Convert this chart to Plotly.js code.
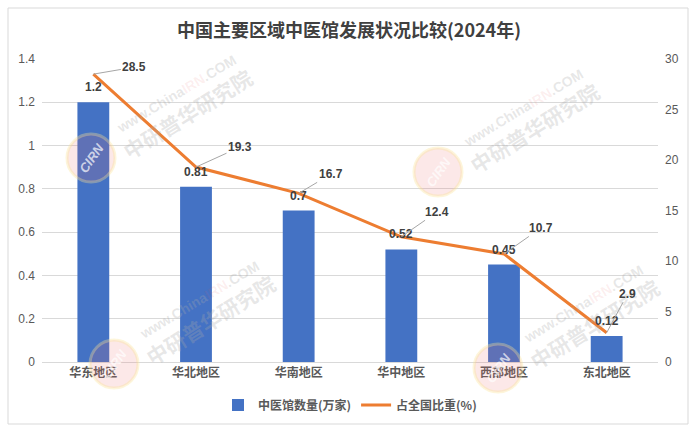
<!DOCTYPE html>
<html><head><meta charset="utf-8">
<script src="https://cdn.plot.ly/plotly-3.0.1.min.js"></script>
<style>html,body{margin:0;padding:0;background:#fff;}#chart{width:698px;height:436px;}</style>
</head><body><div id="chart"></div>
<script>
const categories = ['华东地区','华北地区','华南地区','华中地区','西部地区','东北地区'];
const clinicCount = [1.2, 0.81, 0.7, 0.52, 0.45, 0.12];
const nationalShare = [28.5, 19.3, 16.7, 12.4, 10.7, 2.9];
const leftTicks = [0, 0.2, 0.4, 0.6, 0.8, 1, 1.2, 1.4];
const rightTicks = [0, 5, 10, 15, 20, 25, 30];
const shareLabelOffsets = [[41,-7],[44,-20],[32,-19],[36,-25],[37,-26],[21,-39]];

const FONT = 'Liberation Sans, "Noto Sans CJK SC", sans-serif';
const CJK = '"Noto Sans CJK SC", "Liberation Sans", sans-serif';

// plot area in pixels (for placing the decorative frame / watermarks)
const PL = 42, PR = 658, PT = 59, PB = 362;
const px = v => (v - PL) / (PR - PL);
const py = v => (PB - v) / (PB - PT);

const bar = {
  type: 'bar', name: '中医馆数量(万家)', x: categories, y: clinicCount,
  marker: {color: '#4472C4'}, hoverinfo: 'skip'
};
const line = {
  type: 'scatter', mode: 'lines', name: '占全国比重(%)', x: categories, y: nationalShare,
  yaxis: 'y2', line: {color: '#ED7D31', width: 3}, hoverinfo: 'skip'
};

const annotations = [];
const shapes = [
  {type:'rect', xref:'paper', yref:'paper', x0:px(8), x1:px(688), y0:py(424), y1:py(8),
   line:{color:'#D9D9D9', width:1}, fillcolor:'rgba(0,0,0,0)', layer:'below'}
];

// faint watermarks (logo circle + rotated texts)
const logos = [[91,158],[438,172],[114,364],[498,368]];
logos.forEach(p => {
  const r = 24;
  shapes.push({type:'circle', xref:'paper', yref:'paper', x0:px(p[0]-r), x1:px(p[0]+r), y0:py(p[1]+r), y1:py(p[1]-r),
    line:{color:'rgba(250,225,150,0.35)', width:3}, fillcolor:'rgba(235,110,110,0.16)', layer:'above'});
  annotations.push({xref:'paper', yref:'paper', x:px(p[0]), y:py(p[1]), xanchor:'center', yanchor:'middle',
    text:'<i>CIRN</i>', showarrow:false, textangle:-55,
    font:{family:FONT, size:13, color:'rgba(255,255,255,0.7)', weight:'bold'}});
  annotations.push({xref:'paper', yref:'paper', x:px(p[0]+85), y:py(p[1]-64), xanchor:'center', yanchor:'middle',
    text:'www.China<span style="color:rgba(230,90,90,0.35)">IRN</span>.COM', showarrow:false, textangle:-31,
    font:{family:FONT, size:14, color:'rgba(170,170,170,0.28)', weight:'bold'}});
  annotations.push({xref:'paper', yref:'paper', x:px(p[0]+96), y:py(p[1]-44), xanchor:'center', yanchor:'middle',
    text:'中研普华研究院', showarrow:false, textangle:-32,
    font:{family:CJK, size:21, color:'rgba(170,170,170,0.28)', weight:'bold'}});
});

categories.forEach((c, i) => {
  annotations.push({x: c, y: clinicCount[i], xref: 'x', yref: 'y', text: String(clinicCount[i]),
    showarrow: false, yanchor: 'middle', yshift: 15,
    font: {family: FONT, size: 12, color: '#404040', weight: 'bold'}});
  annotations.push({x: c, y: nationalShare[i], xref: 'x', yref: 'y2', text: String(nationalShare[i]),
    showarrow: true, arrowhead: 0, arrowwidth: 1, arrowcolor: '#A6A6A6',
    ax: shareLabelOffsets[i][0], ay: shareLabelOffsets[i][1], standoff: 0, startstandoff: 0,
    font: {family: FONT, size: 12, color: '#404040', weight: 'bold'}});
});

const layout = {
  width: 698, height: 436,
  margin: {l: PL, r: 698 - PR, t: PT, b: 436 - PB},
  paper_bgcolor: '#fff', plot_bgcolor: '#fff',
  title: {text: '中国主要区域中医馆发展状况比较(2024年)', x: 0.5, xanchor: 'center', y: 0.93, yanchor: 'middle',
    font: {family: CJK, size: 18, color: '#404040', weight: 'bold'}},
  bargap: 0.69,
  xaxis: {tickfont: {family: CJK, size: 12, color: '#595959', weight: 'bold'}, showgrid: false,
    showline: true, linecolor: '#D9D9D9', ticks: '', fixedrange: true},
  yaxis: {range: [0, 1.4], tickvals: leftTicks, ticktext: leftTicks.map(String), showgrid: true, gridcolor: '#D9D9D9',
    zeroline: false, showline: false, ticks: '', ticklabelstandoff: 6,
    tickfont: {family: FONT, size: 12, color: '#595959'}},
  yaxis2: {range: [0, 30], tickvals: rightTicks, overlaying: 'y', side: 'right', showgrid: false, zeroline: false,
    showline: false, ticks: '', ticklabelstandoff: 6, tickfont: {family: FONT, size: 12, color: '#595959'}},
  legend: {orientation: 'h', x: 0.5, xanchor: 'center', y: py(405), yanchor: 'middle',
    font: {family: CJK, size: 12, color: '#595959', weight: 'bold'}, itemwidth: 30, traceorder: 'normal'},
  showlegend: true,
  annotations: annotations,
  shapes: shapes
};
Plotly.newPlot('chart', [bar, line], layout, {displayModeBar: false, staticPlot: true});
</script></body></html>
